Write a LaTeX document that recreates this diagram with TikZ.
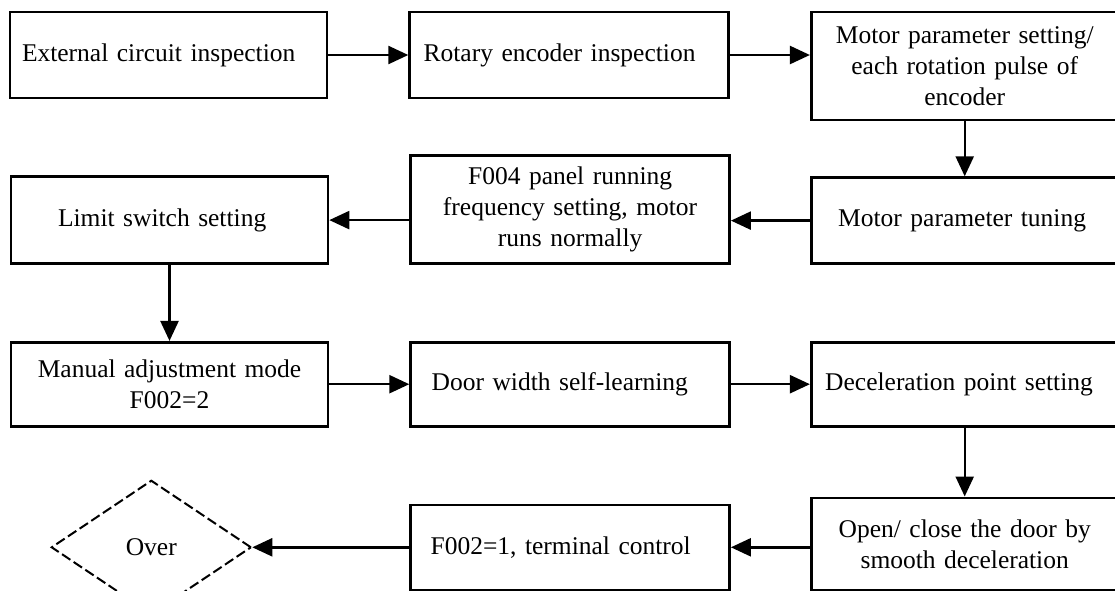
\documentclass[tikz,border=0pt]{standalone}
\usepackage{fontspec}
\setmainfont{Liberation Serif}
\usetikzlibrary{positioning, arrows.meta, shapes.geometric}

\newcommand\stepfont{\fontsize{25.5}{31}\selectfont}

\begin{document}
\begin{tikzpicture}[
  x=1pt, y=-1pt,
  node distance=80pt,
  stepbox/.style={
    draw=black,
    line width=2.6pt,
    inner ysep=0pt,
    align=left,
    font=\stepfont
  },
  multibox/.style={
    stepbox,
    align=center
  },
  endbox/.style={
    draw=black,
    diamond,
    dash pattern=on 10pt off 4pt,
    line width=2pt,
    inner sep=0pt,
    minimum width=200pt,
    minimum height=134pt,
    font=\stepfont
  },
  arrow/.style={
    -{Triangle[length=20pt, width=18pt]},
    draw=black,
    line width=2.4pt
  }
]
\useasboundingbox (0,0) rectangle (1115,590);

% first row
\node[stepbox, minimum height=86pt, text width=293pt, inner xsep=12pt] (ext) at (168.5,55)
  {External circuit inspection};

\node[stepbox, minimum height=86pt, text width=291pt, inner xsep=14pt, right=of ext] (rot)
  {Rotary encoder inspection};

\node[multibox, minimum height=108pt, text width=271pt, inner xsep=18pt,
      right=80pt of rot.north east, anchor=north west] (mset)
  {Motor parameter setting/\\ each rotation pulse of\\ encoder};

% second row, right to left
\node[stepbox, minimum height=86pt, text width=253pt, inner xsep=27pt, below=55pt of mset] (tune)
  {Motor parameter tuning};

\node[multibox, minimum height=108pt, text width=283pt, inner xsep=18pt,
      left=79pt of tune.south west, anchor=south east] (f004)
  {F004 panel running\\ frequency setting, motor\\ runs normally};

\node[stepbox, minimum height=87pt, text width=223pt, inner xsep=47pt,
      left=80pt of f004.south west, anchor=south east] (limit)
  {Limit switch setting};

% third row
\node[multibox, minimum height=84pt, text width=281pt, inner xsep=18pt, below=76pt of limit] (manual)
  {Manual adjustment mode\\ F002=2};

\node[stepbox, minimum height=84pt, text width=277pt, inner xsep=21pt, right=of manual] (door)
  {Door width self-learning};

\node[stepbox, minimum height=84pt, text width=279pt, inner xsep=14pt, right=79pt of door] (decel)
  {Deceleration point setting};

% last row
\node[multibox, minimum height=92pt, text width=271pt, inner xsep=18pt, below=69pt of decel] (open)
  {Open/ close the door by\\ smooth deceleration};

\node[stepbox, minimum height=85pt, text width=279pt, inner xsep=20pt,
      left=79pt of open.south west, anchor=south east] (f002)
  {F002=1, terminal control};

\node[endbox, left=157pt of f002] (over) {Over};

\draw[arrow] (ext) -- (rot);
\draw[arrow] (rot.east) -- (rot.east -| mset.west);
\draw[arrow] (mset) -- (tune);
\draw[arrow] (tune.west) -- (tune.west -| f004.east);
\draw[arrow] (f004.west |- limit.east) -- (limit.east);
\draw[arrow] (limit) -- (manual);
\draw[arrow] (manual) -- (door);
\draw[arrow] (door) -- (decel);
\draw[arrow] (decel) -- (open);
\draw[arrow] (open.west |- f002.east) -- (f002.east);
\draw[arrow] (f002) -- (over);

\end{tikzpicture}
\end{document}
